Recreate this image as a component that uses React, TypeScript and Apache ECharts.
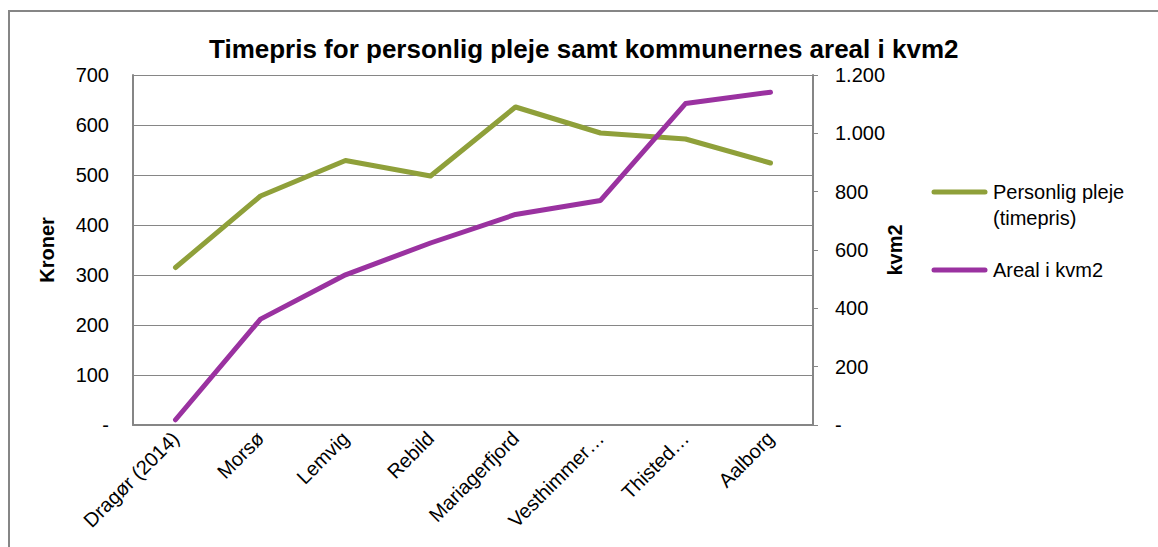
import React, { useEffect, useRef } from "react";
import * as echarts from "echarts";

const categories = [
  "Dragør (2014)",
  "Morsø",
  "Lemvig",
  "Rebild",
  "Mariagerfjord",
  "Vesthimmer…",
  "Thisted…",
  "Aalborg",
];
const timepris = [315, 458, 529, 498, 636, 584, 572, 524];
const areal = [18, 363, 515, 624, 722, 770, 1102, 1141];
const leftTicks = { min: 0, max: 700, interval: 100 };
const rightTicks = { min: 0, max: 1200, interval: 200 };
const seriesNames = ["Personlig pleje (timepris)", "Areal i kvm2"];
const colors = ["#8FA03A", "#9A32A0"];

const FONT = "Liberation Sans, Arial, sans-serif";
const GRAY = "#868686";

function fmtThousands(v: number): string {
  if (v === 0) return "-";
  return String(v).replace(/\B(?=(\d{3})+(?!\d))/g, ".");
}

export default function App() {
  const ref = useRef<HTMLDivElement>(null);
  useEffect(() => {
    document.body.style.margin = "0";
    const chart = echarts.init(ref.current!, null, { renderer: "svg" });
    chart.setOption({
      animation: false,
      backgroundColor: "#ffffff",
      textStyle: { fontFamily: FONT },
      title: {
        text: "Timepris for personlig pleje samt kommunernes areal i kvm2",
        left: 204,
        top: 31,
        textStyle: { fontFamily: FONT, fontSize: 26, fontWeight: "bold", color: "#000" },
      },
      grid: { left: 133, top: 75, right: 345, bottom: 122, containLabel: false },
      xAxis: {
        type: "category",
        data: categories,
        boundaryGap: true,
        axisLine: { show: true, lineStyle: { color: GRAY, width: 2 } },
        axisTick: { show: false },
        axisLabel: {
          rotate: 45,
          interval: 0,
          margin: 10,
          fontSize: 20,
          color: "#000",
          fontFamily: FONT,
        },
      },
      yAxis: [
        {
          type: "value",
          min: leftTicks.min,
          max: leftTicks.max,
          interval: leftTicks.interval,
          name: "Kroner",
          nameLocation: "middle",
          nameRotate: 90,
          nameGap: 76,
          nameMoveOverlap: false,
          nameTextStyle: { fontFamily: FONT, fontSize: 20, fontWeight: "bold", color: "#000" },
          axisLine: { show: true, lineStyle: { color: GRAY, width: 2 } },
          axisTick: { show: false },
          splitLine: { show: true, lineStyle: { color: GRAY, width: 1 } },
          axisLabel: {
            margin: 24,
            fontSize: 20,
            color: "#000",
            fontFamily: FONT,
            formatter: (v: number) => (v === 0 ? "-" : String(v)),
          },
        },
        {
          type: "value",
          position: "right",
          min: rightTicks.min,
          max: rightTicks.max,
          interval: rightTicks.interval,
          name: "kvm2",
          nameLocation: "middle",
          nameRotate: 90,
          nameGap: 72,
          nameMoveOverlap: false,
          nameTextStyle: { fontFamily: FONT, fontSize: 20, fontWeight: "bold", color: "#000" },
          axisLine: { show: true, lineStyle: { color: GRAY, width: 2 } },
          axisTick: { show: true, inside: false, length: 5, lineStyle: { color: GRAY, width: 1 } },
          splitLine: { show: false },
          axisLabel: {
            margin: 22,
            fontSize: 20,
            color: "#000",
            fontFamily: FONT,
            formatter: (v: number) => fmtThousands(v),
          },
        },
      ],
      series: [
        {
          name: seriesNames[0],
          type: "line",
          yAxisIndex: 0,
          data: timepris,
          symbol: "none",
          showSymbol: false,
          lineStyle: { color: colors[0], width: 5, cap: "round", join: "round" },
          itemStyle: { color: colors[0] },
        },
        {
          name: seriesNames[1],
          type: "line",
          yAxisIndex: 1,
          data: areal,
          symbol: "none",
          showSymbol: false,
          lineStyle: { color: colors[1], width: 5, cap: "round", join: "round" },
          itemStyle: { color: colors[1] },
        },
      ],
      graphic: [
        {
          type: "rect",
          shape: { x: 9, y: 11, width: 1300, height: 700 },
          style: { fill: "none", stroke: GRAY, lineWidth: 2 },
          silent: true,
        },
        {
          type: "line",
          shape: { x1: 934, y1: 192, x2: 985, y2: 192 },
          style: { stroke: colors[0], lineWidth: 5, lineCap: "round" },
        },
        {
          type: "text",
          x: 993,
          y: 192,
          style: {
            text: "Personlig pleje\n(timepris)",
            fontFamily: FONT,
            fontSize: 20,
            lineHeight: 26,
            fill: "#000",
            verticalAlign: "top",
            y: -13,
          },
        },
        {
          type: "line",
          shape: { x1: 934, y1: 270, x2: 985, y2: 270 },
          style: { stroke: colors[1], lineWidth: 5, lineCap: "round" },
        },
        {
          type: "text",
          x: 993,
          y: 270,
          style: {
            text: "Areal i kvm2",
            fontFamily: FONT,
            fontSize: 20,
            lineHeight: 26,
            fill: "#000",
            verticalAlign: "middle",
          },
        },
      ],
    });
    return () => chart.dispose();
  }, []);
  return <div ref={ref} style={{ width: 1158, height: 547 }} />;
}
